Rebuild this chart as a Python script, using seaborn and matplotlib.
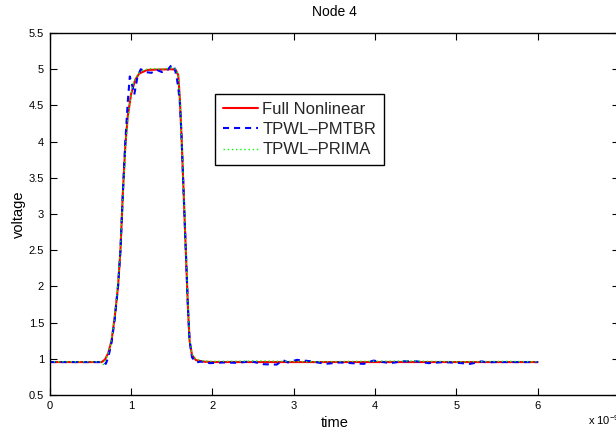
import matplotlib
matplotlib.use("Agg")
import matplotlib.pyplot as plt
import pandas as pd
import seaborn as sns

# Node 4 voltage waveforms; time in units of 1e-9 s
t_full = [0.0, 0.64, 0.68, 0.72, 0.76, 0.80, 0.84, 0.87, 0.90, 0.93, 0.96, 1.00,
          1.05, 1.10, 1.20, 1.50, 1.55, 1.58, 1.60, 1.62, 1.64, 1.66, 1.68, 1.70,
          1.72, 1.75, 1.80, 1.90, 2.00, 6.00]
v_full = [0.955, 0.955, 0.99, 1.08, 1.25, 1.58, 2.00, 2.50, 3.30, 3.95, 4.35, 4.65,
          4.85, 4.94, 4.99, 5.00, 4.99, 4.92, 4.60, 4.10, 3.50, 2.90, 2.30, 1.70,
          1.25, 1.05, 0.98, 0.96, 0.955, 0.955]

t_pmtbr = [0.0, 0.66, 0.69, 0.72, 0.76, 0.80, 0.84, 0.87, 0.90, 0.93, 0.96, 0.985,
           1.01, 1.04, 1.08, 1.12, 1.18, 1.25, 1.32, 1.38, 1.45, 1.50, 1.53, 1.56,
           1.58, 1.60, 1.62, 1.64, 1.66, 1.68, 1.70, 1.72, 1.75, 1.80, 1.85, 1.89,
           1.97, 2.14, 2.30, 2.48, 2.63, 2.79, 2.87, 2.93, 3.04, 3.22, 3.39, 3.57,
           3.71, 3.86, 3.98, 4.19, 4.33, 4.51, 4.66, 4.84, 5.01, 5.17, 5.31, 5.37,
           5.47, 6.00]
v_pmtbr = [0.955, 0.955, 0.93, 1.02, 1.22, 1.55, 2.00, 2.50, 3.30, 4.00, 4.55, 4.90,
           4.80, 4.65, 4.90, 5.00, 4.96, 4.95, 4.99, 4.96, 4.99, 5.06, 5.04, 4.90,
           4.75, 4.55, 4.10, 3.50, 2.90, 2.30, 1.70, 1.25, 1.02, 0.95, 0.96, 0.96,
           0.94, 0.95, 0.945, 0.965, 0.925, 0.92, 0.98, 0.95, 0.985, 0.965, 0.93, 0.95,
           0.94, 0.93, 0.975, 0.94, 0.965, 0.965, 0.94, 0.955, 0.945, 0.93, 0.965, 0.95,
           0.955, 0.955]

t_prima = [0.0, 0.62, 0.66, 0.70, 0.74, 0.78, 0.82, 0.86, 0.90, 0.94, 0.98, 1.02,
           1.08, 1.15, 1.25, 1.40, 1.50, 1.55, 1.58, 1.60, 1.62, 1.64, 1.66, 1.68,
           1.70, 1.72, 1.75, 1.80, 1.90, 2.00, 2.60, 3.20, 3.80, 4.40, 5.00, 5.60, 6.00]
v_prima = [0.96, 0.96, 0.92, 1.02, 1.15, 1.42, 1.80, 2.35, 3.25, 4.05, 4.50, 4.78,
           4.93, 4.99, 5.01, 5.00, 5.02, 5.00, 4.93, 4.62, 4.12, 3.52, 2.92, 2.32,
           1.72, 1.27, 1.06, 0.99, 0.97, 0.965, 0.97, 0.96, 0.965, 0.97, 0.96, 0.965, 0.96]

series_names = ["Full Nonlinear", "TPWL\u2013PMTBR", "TPWL\u2013PRIMA"]
x_ticks = [0, 1, 2, 3, 4, 5, 6, 7]
x_tick_labels = ["0", "1", "2", "3", "4", "5", "6", ""]
y_ticks = [0.5, 1, 1.5, 2, 2.5, 3, 3.5, 4, 4.5, 5, 5.5]

sns.set_theme(style="ticks")
plt.rcParams["font.family"] = ["Liberation Sans", "DejaVu Sans"]
plt.rcParams["mathtext.fontset"] = "custom"
plt.rcParams["mathtext.rm"] = "Liberation Sans"
plt.rcParams["mathtext.it"] = "Liberation Sans:italic"
plt.rcParams["mathtext.bf"] = "Liberation Sans:bold"

W, H = 616, 430
fig = plt.figure(figsize=(W / 100, H / 100), dpi=100)
# the axes box runs slightly past the right edge of the canvas
ax = fig.add_axes([49.7 / W, 35 / H, 569.3 / W, 362 / H])

frames = {
    series_names[0]: pd.DataFrame({"time": t_full, "voltage": v_full}),
    series_names[1]: pd.DataFrame({"time": t_pmtbr, "voltage": v_pmtbr}),
    series_names[2]: pd.DataFrame({"time": t_prima, "voltage": v_prima}),
}
styles = {
    series_names[0]: dict(color=(1, 0, 0), linewidth=1.5, linestyle="-"),
    series_names[1]: dict(color=(0, 0, 1), linewidth=1.5, linestyle=(0, (2.9, 2.4))),
    series_names[2]: dict(color=(0, 1, 0), linewidth=1.0, linestyle=(0, (1, 2))),
}
for name in series_names:
    sns.lineplot(data=frames[name], x="time", y="voltage", ax=ax, label=name,
                 estimator=None, sort=False, **styles[name])

ax.set_xlim(0, 7)
ax.set_ylim(0.5, 5.5)
ax.set_xticks(x_ticks)
ax.set_yticks(y_ticks)
ax.set_xticklabels(x_tick_labels)
ax.set_yticklabels([f"{v:g}" for v in y_ticks])
ax.tick_params(direction="in", length=5, width=0.8, top=True, right=True,
               bottom=True, left=True, labelsize=8, colors="black", pad=4)

for side in ["left", "right", "top", "bottom"]:
    ax.spines[side].set_visible(True)
    ax.spines[side].set_color("black")
    ax.spines[side].set_linewidth(1.0)

ax.set_title("Node 4", fontsize=10, pad=12, color="black")
ax.set_xlabel("time", fontsize=10.5, labelpad=4, color="black")
ax.set_ylabel("voltage", fontsize=10.5, labelpad=2, color="black")

fig.text(588 / W, 1 - 425 / H, "x 10$^{-9}$", fontsize=8, ha="left",
         va="baseline", color="black")

leg = ax.legend(loc="upper left", bbox_to_anchor=(215 / W, 1 - 94 / H),
                bbox_transform=fig.transFigure, fontsize=12, frameon=True,
                fancybox=False, framealpha=1, edgecolor="black",
                handlelength=2.1, handletextpad=0.3, labelspacing=0.33,
                borderpad=0.45, borderaxespad=0)
leg.get_frame().set_linewidth(1.0)

fig.savefig("out.png", dpi=100)
